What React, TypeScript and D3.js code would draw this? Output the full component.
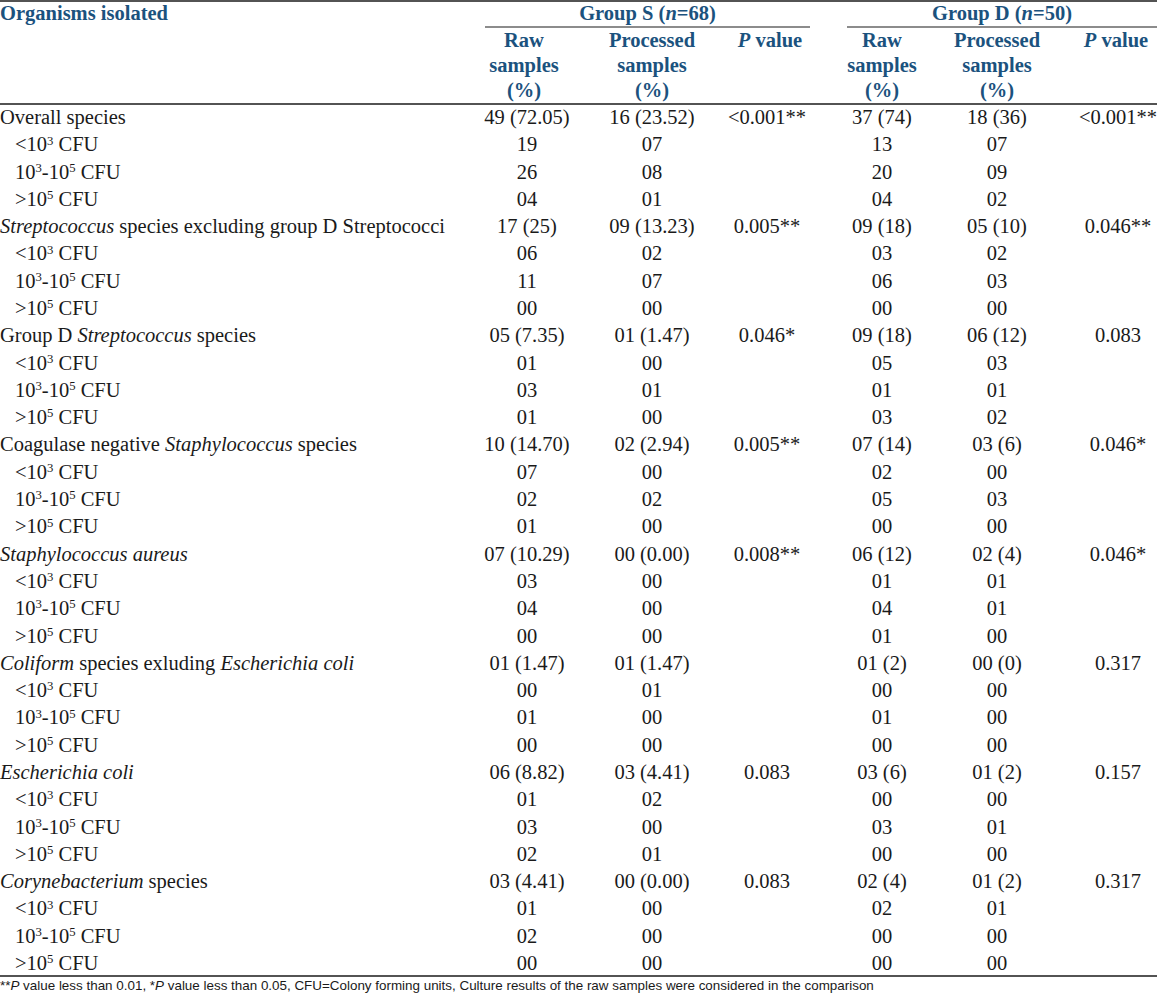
import React from "react";
import * as d3 from "d3";

// ---------- DATA ----------
const organisms = [
  "Overall species",
  "_Streptococcus_ species excluding group D Streptococci",
  "Group D _Streptococcus_ species",
  "Coagulase negative _Staphylococcus_ species",
  "_Staphylococcus aureus_",
  "_Coliform_ species exluding _Escherichia coli_",
  "_Escherichia coli_",
  "_Corynebacterium_ species",
];
const cfuLevels = ["<10^3^ CFU", "10^3^-10^5^ CFU", ">10^5^ CFU"];

const rawS = ["49 (72.05)", "17 (25)", "05 (7.35)", "10 (14.70)", "07 (10.29)", "01 (1.47)", "06 (8.82)", "03 (4.41)"];
const procS = ["16 (23.52)", "09 (13.23)", "01 (1.47)", "02 (2.94)", "00 (0.00)", "01 (1.47)", "03 (4.41)", "00 (0.00)"];
const pS = ["<0.001**", "0.005**", "0.046*", "0.005**", "0.008**", "", "0.083", "0.083"];
const rawD = ["37 (74)", "09 (18)", "09 (18)", "07 (14)", "06 (12)", "01 (2)", "03 (6)", "02 (4)"];
const procD = ["18 (36)", "05 (10)", "06 (12)", "03 (6)", "02 (4)", "00 (0)", "01 (2)", "01 (2)"];
const pD = ["<0.001**", "0.046**", "0.083", "0.046*", "0.046*", "0.317", "0.157", "0.317"];

const rawSCfu = [[19, 26, 4], [6, 11, 0], [1, 3, 1], [7, 2, 1], [3, 4, 0], [0, 1, 0], [1, 3, 2], [1, 2, 0]];
const procSCfu = [[7, 8, 1], [2, 7, 0], [0, 1, 0], [0, 2, 0], [0, 0, 0], [1, 0, 0], [2, 0, 1], [0, 0, 0]];
const rawDCfu = [[13, 20, 4], [3, 6, 0], [5, 1, 3], [2, 5, 0], [1, 4, 1], [0, 1, 0], [0, 3, 0], [2, 0, 0]];
const procDCfu = [[7, 9, 2], [2, 3, 0], [3, 1, 2], [0, 3, 0], [1, 1, 0], [0, 0, 0], [0, 1, 0], [1, 0, 0]];

const groupNames = ["Group S", "Group D"];
const groupN = [68, 50];
const subHeaders = [["Raw", "samples", "(%)"], ["Processed", "samples", "(%)"], ["_P_ value"]];
const footnote = "**_P_ value less than 0.01, *_P_ value less than 0.05, CFU=Colony forming units, Culture results of the raw samples were considered in the comparison";

// ---------- LAYOUT ----------
const W = 1157;
const H = 996;
const BLUE = "#1b527e";
const INK = "#1a1a1a";
const SERIF = "'Liberation Serif', 'Times New Roman', serif";
const SANS = "'Liberation Sans', Arial, sans-serif";
const FS = 20.5;

const colKeys = ["rawS", "procS", "pS", "rawD", "procD", "pD"];
const colX = d3.scaleOrdinal<string, number>().domain(colKeys).range([527, 652, 767, 882, 997, 1118]);
const headX = d3.scaleOrdinal<string, number>().domain(colKeys).range([524, 652, 770, 882, 997, 1116]);
const nRows = organisms.length * 4;
const rowY = d3.scaleLinear().domain([0, nRows - 1]).range([124, 970]);

const fmt2 = d3.format("02d");

// Parse _italic_ and ^superscript^ markers
function rich(s: string, fs: number) {
  const parts: { t: string; it: boolean; sup: boolean }[] = [];
  let it = false, sup = false, buf = "";
  for (const ch of s) {
    if (ch === "_" || ch === "^") {
      if (buf) parts.push({ t: buf, it, sup });
      buf = "";
      if (ch === "_") it = !it; else sup = !sup;
    } else buf += ch;
  }
  if (buf) parts.push({ t: buf, it, sup });
  let shifted = false;
  return parts.map((p, i) => {
    let dy = 0;
    if (p.sup && !shifted) { dy = -fs * 0.33; shifted = true; }
    else if (!p.sup && shifted) { dy = fs * 0.33; shifted = false; }
    return (
      <tspan key={i} fontStyle={p.it ? "italic" : "normal"} fontSize={p.sup ? fs * 0.62 : fs} dy={dy || undefined}>
        {p.t}
      </tspan>
    );
  });
}

export default function App() {
  const cells: React.ReactNode[] = [];
  const cols: [string, string[], number[][]][] = [
    ["rawS", rawS, rawSCfu],
    ["procS", procS, procSCfu],
    ["rawD", rawD, rawDCfu],
    ["procD", procD, procDCfu],
  ];
  organisms.forEach((org, g) => {
    const r0 = g * 4;
    cells.push(
      <text key={`l${g}`} x={0} y={rowY(r0)} fontSize={FS} fill={INK}>{rich(org, FS)}</text>
    );
    cfuLevels.forEach((lv, k) => {
      cells.push(
        <text key={`l${g}-${k}`} x={15} y={rowY(r0 + k + 1)} fontSize={FS} fill={INK}>{rich(lv, FS)}</text>
      );
    });
    cols.forEach(([key, tot, sub]) => {
      cells.push(
        <text key={`${key}${g}`} x={colX(key)} y={rowY(r0)} textAnchor="middle" fontSize={FS} fill={INK}>{tot[g]}</text>
      );
      sub[g].forEach((v, k) => {
        cells.push(
          <text key={`${key}${g}-${k}`} x={colX(key)} y={rowY(r0 + k + 1)} textAnchor="middle" fontSize={FS} fill={INK}>{fmt2(v)}</text>
        );
      });
    });
    [["pS", pS], ["pD", pD]].forEach(([key, arr]) => {
      const k = key as string;
      const a = arr as string[];
      if (a[g]) cells.push(
        <text key={`${k}${g}`} x={colX(k)} y={rowY(r0)} textAnchor="middle" fontSize={FS} fill={INK}>{a[g]}</text>
      );
    });
  });

  const groupSpan = [[485, 810], [847, W]];
  const groupCols = [["rawS", "procS", "pS"], ["rawD", "procD", "pD"]];

  return (
    <svg width={W} height={H} style={{ position: "absolute", left: 0, top: 0, background: "#fff" }} fontFamily={SERIF}>
      <rect x={0} y={0} width={W} height={H} fill="#fff" />
      {/* rules */}
      <line x1={0} x2={W} y1={1} y2={1} stroke={INK} strokeWidth={1.5} />
      <line x1={0} x2={W} y1={104} y2={104} stroke={INK} strokeWidth={1.5} />
      <line x1={0} x2={W} y1={976} y2={976} stroke={INK} strokeWidth={1.5} />
      {groupSpan.map(([a, b], i) => (
        <line key={`gl${i}`} x1={a} x2={b} y1={27} y2={27} stroke={INK} strokeWidth={1.2} />
      ))}
      {/* header */}
      <g fontWeight="bold" fill={BLUE} fontSize={FS}>
        <text x={0} y={20}>Organisms isolated</text>
        {groupNames.map((gname, i) => (
          <text key={`g${i}`} x={(groupSpan[i][0] + groupSpan[i][1]) / 2} y={20} textAnchor="middle">
            {gname} (<tspan fontStyle="italic">n</tspan>={groupN[i]})
          </text>
        ))}
        {groupCols.map((gc, i) =>
          gc.map((key, j) =>
            subHeaders[j].map((line, li) => (
              <text key={`h${i}-${j}-${li}`} x={headX(key)} y={47 + li * 25} textAnchor="middle">
                {rich(line, FS)}
              </text>
            ))
          )
        )}
      </g>
      {cells}
      <text x={0} y={990} transform="scale(1.1,1)" fontFamily={SANS} fontSize={12.2} fill={INK}>{rich(footnote, 12.2)}</text>
    </svg>
  );
}
